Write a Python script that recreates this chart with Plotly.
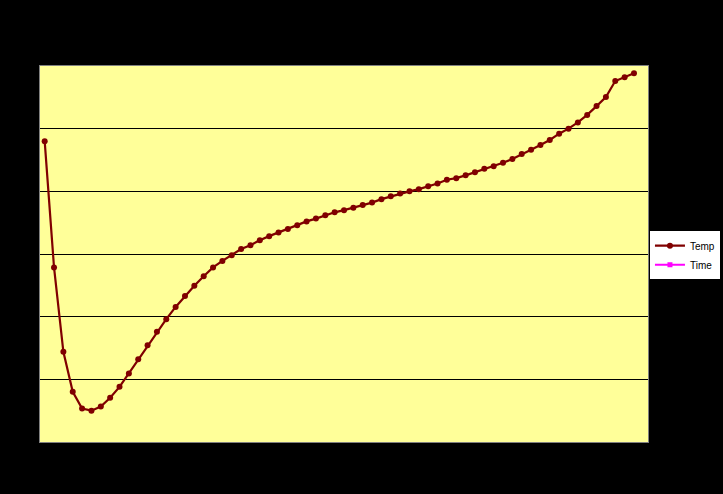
import plotly.graph_objects as go

title_text = "Chart1"
categories = [str(i) for i in range(1, 65)]
temp = [96.0, 55.7, 28.8, 16.0, 10.7, 10.0, 11.3, 14.1, 17.6, 21.9,
        26.4, 30.9, 35.2, 39.2, 43.1, 46.6, 49.9, 52.9, 55.7, 57.8,
        59.6, 61.6, 62.8, 64.4, 65.7, 66.9, 68.0, 69.2, 70.4, 71.3,
        72.4, 73.3, 74.0, 74.8, 75.6, 76.4, 77.5, 78.4, 79.3, 80.0,
        80.7, 81.6, 82.5, 83.7, 84.2, 85.1, 86.1, 87.2, 88.0, 89.1,
        90.3, 91.9, 93.3, 94.8, 96.4, 98.4, 100.0, 102.0, 104.4, 107.2,
        110.1, 115.2, 116.4, 117.7]
time = [None] * len(categories)
y_ticks = [0, 20, 40, 60, 80, 100, 120]
y_tick_labels = ["0.0", "20.0", "40.0", "60.0", "80.0", "100.0", "120.0"]

fig = go.Figure()
fig.add_trace(go.Scatter(
    x=categories, y=temp, name="Temp", mode="lines+markers",
    line=dict(color="#800000", width=2.2),
    marker=dict(color="#800000", size=6, symbol="circle"),
))
fig.add_trace(go.Scatter(
    x=categories, y=time, name="Time", mode="lines+markers",
    line=dict(color="#FF00FF", width=2),
    marker=dict(color="#FF00FF", size=5, symbol="square"),
))

fig.update_layout(
    width=723, height=494,
    paper_bgcolor="#000000", plot_bgcolor="#FFFF99",
    margin=dict(l=40, r=75, t=66, b=52, autoexpand=False),
    font=dict(family="Arial, Liberation Sans, sans-serif", size=9, color="#000000"),
    title=dict(text=title_text, x=0.5, xanchor="center", y=0.945, yanchor="middle",
               font=dict(size=12, color="#000000")),
    showlegend=True,
    legend=dict(x=1.12, y=0.497, xanchor="right", yanchor="middle",
                bgcolor="#FFFFFF", bordercolor="#000000", borderwidth=1,
                font=dict(size=10, color="#000000"), itemwidth=30,
                tracegroupgap=0),
    xaxis=dict(type="category", range=[-0.5, 64.5], showgrid=False,
               showline=True, linecolor="#808080", linewidth=1, mirror=True,
               tickangle=-45, tickmode="array",
               tickvals=categories[::2], ticktext=categories[::2],
               ticks="outside", tickcolor="#000000", ticklen=3,
               tickfont=dict(size=8, color="#000000")),
    yaxis=dict(range=[0, 120], tickmode="array", tickvals=y_ticks,
               ticktext=y_tick_labels, showgrid=True, gridcolor="#000000",
               gridwidth=1, zeroline=False, showline=True, linecolor="#808080",
               linewidth=1, mirror=True,
               tickfont=dict(size=8, color="#000000")),
)

fig.write_html("out.html", config={"displayModeBar": False},
               post_script="document.body.style.margin='0';document.body.style.background='#000';")
